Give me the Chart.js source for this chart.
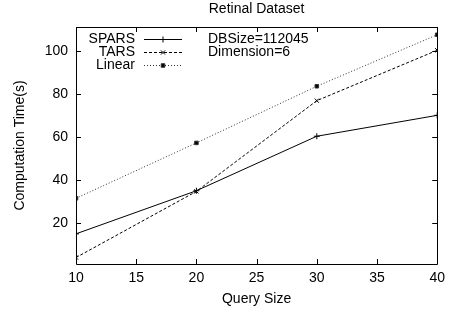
<!DOCTYPE html>
<html>
<head>
<meta charset="utf-8">
<script src="https://cdn.jsdelivr.net/npm/chart.js@4.4.0/dist/chart.umd.min.js"></script>
<style>
  html, body { margin: 0; padding: 0; background: #ffffff; }
  #wrap { width: 451px; height: 313px; }
</style>
</head>
<body>
<div id="wrap"><canvas id="c" width="451" height="313"></canvas></div>
<script>
const querySizes = [10, 20, 30, 40];
const sparsTimes = [15, 35, 60.3, 70];
const tarsTimes = [4, 34.7, 76.8, 100.2];
const linearTimes = [31.5, 57.2, 83.5, 107.4];
const xTicks = [10, 15, 20, 25, 30, 35, 40];
const yTicks = [20, 40, 60, 80, 100];
const seriesNames = ['SPARS', 'TARS', 'Linear'];
const infoLines = ['DBSize=112045', 'Dimension=6'];
const chartTitle = 'Retinal Dataset';

const FONT = 'Liberation Sans, Arial, Helvetica, sans-serif';

function pts(vals) { return querySizes.map((x, i) => ({ x: x, y: vals[i] })); }

const framePlugin = {
  id: 'frame',
  afterDatasetsDraw(chart) {
    const ctx = chart.ctx, a = chart.chartArea;
    const xs = chart.scales.x, ys = chart.scales.y;
    ctx.save();
    ctx.strokeStyle = '#000';
    ctx.lineWidth = 1;
    ctx.beginPath();
    ctx.rect(Math.round(a.left) + 0.5, Math.round(a.top) + 0.5, Math.round(a.right - a.left), Math.round(a.bottom - a.top));
    ctx.stroke();
    const L = 5;
    ctx.beginPath();
    xTicks.forEach(v => {
      const px = Math.round(xs.getPixelForValue(v)) + 0.5;
      ctx.moveTo(px, a.bottom); ctx.lineTo(px, a.bottom - L);
      ctx.moveTo(px, a.top); ctx.lineTo(px, a.top + L);
    });
    yTicks.forEach(v => {
      const py = Math.round(ys.getPixelForValue(v)) + 0.5;
      ctx.moveTo(a.left, py); ctx.lineTo(a.left + L, py);
      ctx.moveTo(a.right, py); ctx.lineTo(a.right - L, py);
    });
    ctx.stroke();
    ctx.restore();
  },
  afterDraw(chart) {
    const ctx = chart.ctx, a = chart.chartArea;
    ctx.save();
    ctx.font = '14px ' + FONT;
    ctx.fillStyle = '#000';
    ctx.textBaseline = 'middle';
    ctx.textAlign = 'center';
    ctx.fillText(chartTitle, (a.left + a.right) / 2, 9);
    const rows = [39, 52, 65];
    const textRight = 135, lx0 = 144, lx1 = 182;
    chart.data.datasets.forEach((ds, i) => {
      const y = rows[i];
      ctx.textAlign = 'right';
      ctx.fillText(seriesNames[i], textRight, y);
      ctx.strokeStyle = ds.borderColor;
      ctx.lineWidth = ds.borderWidth;
      ctx.setLineDash(ds.borderDash || []);
      ctx.beginPath();
      ctx.moveTo(lx0, y + 0.5); ctx.lineTo(lx1, y + 0.5);
      ctx.stroke();
      ctx.setLineDash([]);
      Chart.helpers.drawPoint(ctx, {
        pointStyle: ds.pointStyle, radius: ds.pointRadius, borderWidth: 1, rotation: 0
      }, (lx0 + lx1) / 2, y + 0.5);
      ctx.fillStyle = '#000';
    });
    ctx.textAlign = 'left';
    infoLines.forEach((t, i) => ctx.fillText(t, 208, rows[i]));
    ctx.restore();
  }
};

new Chart(document.getElementById('c'), {
  type: 'line',
  data: {
    datasets: [
      { label: seriesNames[0], data: pts(sparsTimes), borderColor: '#000', backgroundColor: '#000',
        borderWidth: 1, pointStyle: 'cross', pointRadius: 3, pointBorderWidth: 1, tension: 0, fill: false },
      { label: seriesNames[1], data: pts(tarsTimes), borderColor: '#000', backgroundColor: '#000',
        borderWidth: 1, borderDash: [3, 2], pointStyle: 'crossRot', pointRadius: 3, pointBorderWidth: 1, tension: 0, fill: false },
      { label: seriesNames[2], data: pts(linearTimes), borderColor: '#333', backgroundColor: '#000',
        borderWidth: 1, borderDash: [1, 2], pointStyle: 'rect', pointRadius: 2.5, pointBorderWidth: 1, tension: 0, fill: false }
    ]
  },
  options: {
    responsive: false,
    animation: false,
    devicePixelRatio: 1,
    layout: { padding: { left: 0, right: 12, top: 27, bottom: 0 } },
    plugins: {
      legend: { display: false },
      tooltip: { enabled: false },
      title: { display: false }
    },
    scales: {
      x: {
        type: 'linear', min: 10, max: 40,
        afterBuildTicks: s => { s.ticks = xTicks.map(v => ({ value: v })); },
        afterFit: s => { s.height = 49; },
        grid: { display: false, drawTicks: false },
        border: { display: false },
        ticks: { color: '#000', padding: 6, maxRotation: 0, autoSkip: false, font: { family: FONT, size: 14 } },
        title: { display: true, text: 'Query Size', color: '#000', font: { family: FONT, size: 14 }, padding: { top: 0, bottom: 5.6 } }
      },
      y: {
        type: 'linear', min: 1, max: 111,
        afterBuildTicks: s => { s.ticks = yTicks.map(v => ({ value: v })); },
        afterFit: s => { s.width = 76; },
        grid: { display: false, drawTicks: false },
        border: { display: false },
        ticks: { color: '#000', padding: 8, font: { family: FONT, size: 14 } },
        title: { display: true, text: 'Computation Time(s)', color: '#000', font: { family: FONT, size: 14 }, padding: { top: 11.6, bottom: 0 } }
      }
    }
  },
  plugins: [framePlugin]
});
</script>
</body>
</html>
